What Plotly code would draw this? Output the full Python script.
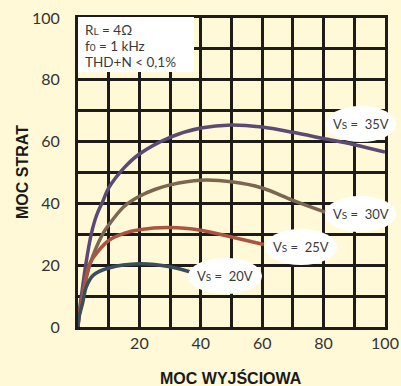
import plotly.graph_objects as go

# Output power (x) vs dissipated power (y) for several supply voltages
vs35_x = [0, 0.3, 1.1, 2.5, 4.3, 6, 8, 10, 15, 20, 30, 40, 50, 60, 70, 80, 90, 100]
vs35_y = [0, 4, 10, 20, 30, 36, 40.5, 45, 51.5, 56, 61.4, 64.4, 65.4, 64.7, 63, 61, 59, 56.6]

vs30_x = [0, 0.4, 1.5, 3.8, 8, 10, 15, 20, 25, 30, 40, 50, 60, 70, 80.5]
vs30_y = [0, 4, 10, 20, 30, 33, 39, 42.3, 44.5, 46, 47.5, 47, 45, 41, 37.2]

vs25_x = [0, 0.4, 1.5, 3.6, 5, 10, 15, 20, 30, 40, 50, 60.5]
vs25_y = [0, 4, 10, 20, 22.5, 28, 30.3, 31.5, 32.2, 31.3, 29.1, 26.7]

vs20_x = [0, 0.3, 1.5, 2.7, 5, 10, 20, 30, 37.5]
vs20_y = [0, 3, 7.7, 13, 16.8, 19.1, 20.5, 19.5, 17.5]

SUB = "<span style='font-size:10px'>{}</span>"
series_labels = ["V" + SUB.format("S") + " =  35V", "V" + SUB.format("S") + " =  30V",
                 "V" + SUB.format("S") + " =  25V", "V" + SUB.format("S") + " =  20V"]

x_tickvals = [20, 40, 60, 80, 100]
y_tickvals = [0, 20, 40, 60, 80, 100]

conditions = ["R" + SUB.format("L") + " = 4Ω", "f" + SUB.format("0") + " = 1 kHz", "THD+N < 0,1%"]

BG = "#fff9d8"
GRID = "#1f1b18"
TXT = "#3a3a3a"
FONT = "Lato, Liberation Sans, sans-serif"

fig = go.Figure()
curves = [
    (vs35_x, vs35_y, "#5b4a73"),
    (vs30_x, vs30_y, "#7b6751"),
    (vs25_x, vs25_y, "#a9553f"),
    (vs20_x, vs20_y, "#3b4e5b"),
]
for xs, ys, col in curves:
    fig.add_trace(go.Scatter(x=xs, y=ys, mode="lines",
                             line=dict(color=col, width=3.5, shape="spline", smoothing=1.0),
                             hoverinfo="skip", showlegend=False))

# plot area in pixels: x 78..385, y 18..327
L, R, T, B = 78, 385, 18, 327


def px(xp):
    return (xp - L) / (R - L)


def py(yp):
    return (B - yp) / (B - T)


shapes = []
# conditions box
shapes.append(dict(type="rect", xref="paper", yref="paper",
                   x0=px(78), x1=px(194), y0=py(72), y1=py(17),
                   fillcolor="white", line=dict(width=0), layer="above"))

# label ellipses (pixel boxes)
ellipses = [
    (326, 396, 106, 142),
    (325, 396, 196, 232),
    (265, 337, 229, 265),
    (188, 262, 258, 294),
]
for (x0, x1, y0, y1), lab in zip(ellipses, series_labels):
    shapes.append(dict(type="circle", xref="paper", yref="paper",
                       x0=px(x0), x1=px(x1), y0=py(y1), y1=py(y0),
                       fillcolor="white", line=dict(width=0), layer="above"))
    fig.add_annotation(x=px((x0 + x1) / 2), y=py((y0 + y1) / 2), xref="paper", yref="paper",
                       text=lab, showarrow=False, xanchor="center", yanchor="middle",
                       font=dict(family=FONT, size=13, color=TXT))

for i, t in enumerate(conditions):
    fig.add_annotation(x=px(83), y=py(30 + 16 * i), xref="paper", yref="paper",
                       text=t, showarrow=False, xanchor="left", yanchor="middle",
                       font=dict(family=FONT, size=13.5, color=TXT))

# axis titles
fig.add_annotation(x=px(22), y=py(172), xref="paper", yref="paper", text="<b>MOC STRAT</b>",
                   textangle=-90, showarrow=False, xanchor="center", yanchor="middle",
                   font=dict(family="Liberation Sans, Arial, sans-serif", size=16, color="#1a1a1a"))
fig.add_annotation(x=px(231), y=py(378), xref="paper", yref="paper", text="<b>MOC WYJŚCIOWA</b>",
                   showarrow=False, xanchor="center", yanchor="middle",
                   font=dict(family="Liberation Sans, Arial, sans-serif", size=16, color="#1a1a1a"))

axis_common = dict(range=[0, 100], tickmode="array", automargin=False,
                   showgrid=True, gridcolor=GRID, gridwidth=3, zeroline=False,
                   showline=True, mirror=True, linecolor=GRID, linewidth=3,
                   ticks="", tickfont=dict(family=FONT, size=16, color="#333333"),
                   minor=dict(tick0=0, dtick=10, showgrid=True, gridcolor=GRID, gridwidth=3, ticks=""),
                   fixedrange=True)

fig.update_layout(
    width=401, height=386,
    margin=dict(l=L, r=401 - R, t=T, b=386 - B, autoexpand=False),
    paper_bgcolor=BG, plot_bgcolor=BG,
    shapes=shapes,
    xaxis=dict(**axis_common, tickvals=x_tickvals, ticklabelstandoff=0),
    yaxis=dict(**axis_common, tickvals=y_tickvals, ticklabelstandoff=12),
)

fig.write_html("out.html")
